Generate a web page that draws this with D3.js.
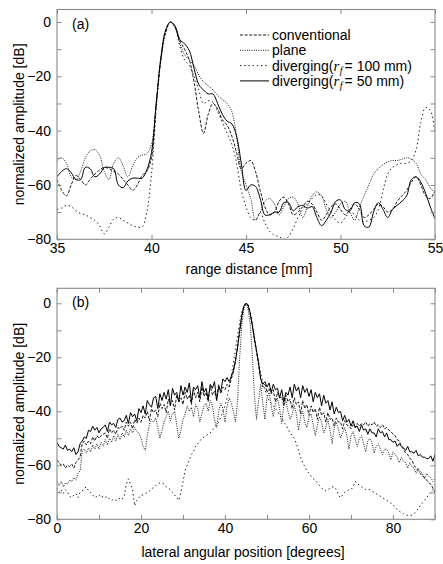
<!DOCTYPE html>
<html><head><meta charset="utf-8">
<script src="https://cdn.jsdelivr.net/npm/d3@7"></script>
<style>
body{margin:0;background:#fff}
svg{display:block}
text{font-family:"Liberation Sans",Arial,Helvetica,sans-serif;font-size:14px;fill:#000}
</style>
</head><body>
<svg id="c" width="443" height="564"></svg>
<script>
// ---------- DATA ----------
// (a) range profile, x = range distance [mm], 35..55 step 0.25
const rangeX = d3.range(35, 55.001, 0.25);
const rangeConventional = [
 -58,-62,-64,-60,-56.5,-58,-60,-58,-56,-54.5,-53.5,-54,-55,-56,-58,-60,-62,-60,-56.5,-55,
 -50,-30,-13,-3,0,-2,-7,-10,-14,-22,-33,-41,-34,-30,-32,-36,-38,-42,-48,-54,
 -52,-51,-55,-62,-68,-71,-70,-66,-64.5,-67,-71,-70,-68,-66,-67,-70,-73,-71,-68,-67,
 -69,-71,-69,-67,-69,-72,-71,-69,-67,-68,-70,-69,-66,-64,-62,-59,-57,-60,-64,-65,
 -62];
const rangePlane = [
 -51,-50,-52,-57,-58,-55,-50,-47.5,-47,-49,-55,-58,-52,-50,-53,-57,-53,-50,-49,-48.5,
 -45,-30,-14,-4,0,-2,-8,-12,-14,-16,-19.5,-22,-23.5,-25,-27,-28.5,-30,-33,-42,-55,
 -60,-65,-73,-70,-66,-65,-67,-71,-68,-65,-64.5,-67,-72,-68,-64,-62.5,-64,-69,-72,-70,
 -67,-66,-70,-73,-68,-64,-60,-56,-54,-52.5,-51.5,-51,-51,-50.5,-50,-50.5,-52,-56,-58,-61,
 -63];
const rangeDiv100 = [
 -69,-68.5,-67.5,-68,-69.5,-70.5,-71,-72,-73,-75,-78,-75.5,-72.5,-72,-73,-74,-75,-75.5,-75.5,-70,
 -56,-32,-14,-4,0,-2,-9,-14,-16,-20,-25,-30,-29,-29.5,-33,-37,-41,-45,-52,-62,
 -68,-72,-73,-70,-74,-77,-78.5,-79,-80,-79,-76,-72,-69,-67,-65,-63.5,-64,-67,-70,-73,
 -74,-72,-70,-71,-73,-73.5,-73,-72,-69,-62,-56,-53.5,-52.5,-52,-52,-51,-47,-37,-31.5,-32.5,
 -41];
const rangeDiv50 = [
 -57,-55,-54,-55.5,-58,-58,-53.5,-54,-57,-56,-53.6,-53.5,-54,-60,-61,-58.5,-57.5,-57.5,-57.5,-54.5,
 -48,-30,-13,-3,0,-1.5,-6.5,-8,-10.5,-17,-23,-25,-26.5,-26.5,-30,-34,-36.5,-37.5,-42,-52,
 -62,-60,-60.5,-65,-71,-71,-70,-70,-66.5,-66.5,-69.5,-68,-67.5,-68.5,-68,-72,-75,-73,-70,-66,
 -65.5,-69,-69.5,-66.5,-67,-75,-75.5,-70,-66.5,-69,-72,-69,-67.5,-66,-64,-58,-57,-59,-63,-68,
 -72.5];

// (b) lateral profile, x = lateral angular position [degrees], 0..90 step 0.5
const lateralX = d3.range(0, 90.001, 0.5);
const lateralConventional = [
 -58,-59,-60,-59.5,-61,-60,-60.5,-59.5,-61,-59,-58,-57,-52,-51,-52.5,-51,-52,-49.5,-51,-49,
 -50,-49,-48.5,-48,-50,-46.5,-48,-47,-48.5,-46,-46.5,-45.5,-47,-44,-45.5,-44,-46.5,-43,-44.5,-42.5,
 -44,-41.5,-42.5,-40,-43.5,-39,-40.5,-39.5,-42,-37,-39,-37.5,-40.5,-35.5,-37.5,-36,-39.5,-34,-36.5,-35,
 -37.5,-33,-35.5,-34,-37.5,-32,-35,-33,-36.5,-31,-34.5,-33,-36.5,-30.5,-34,-32.5,-35.5,-30,-33.5,-31,
 -32,-30,-31,-28,-25.5,-21.5,-16.5,-10.5,-5,-1.2,0,-0.8,-4,-8.5,-13.5,-18,-23,-28,-31,-30,
 -33,-31.5,-33.5,-32,-36.5,-33,-35,-34.5,-38,-34,-36.5,-35.5,-39,-35,-37.5,-36.5,-41,-36,-39,-37.5,
 -41.5,-38,-40.5,-39,-43,-38.5,-41.5,-40.5,-44,-40.5,-43,-42.5,-45.5,-42.5,-44,-44,-46.5,-43.5,-45,-45.5,
 -46.5,-45,-46,-44.5,-45.5,-44.5,-45,-44,-45.5,-44.5,-45,-44,-45.5,-45,-46,-45,-46.5,-46,-47,-47.5,
 -48.5,-49,-50.5,-51,-53,-54,-55.5,-56,-57.5,-58,-60,-61,-62,-63,-64,-64.5,-65.5,-66.5,-67,-68.5,
 -70];
const lateralPlane = [
 -66,-67.5,-66,-68,-66.5,-67,-65.5,-66,-64.5,-65.5,-63,-62,-55,-54,-55.5,-53.5,-55,-52.5,-54,-52,
 -54,-51.5,-53,-50.5,-52.5,-50,-51.5,-49,-51,-48.5,-50.5,-48,-49.5,-47,-49,-46.5,-48,-46,-47.5,-48,
 -50,-53,-54.5,-49,-45,-43,-44,-42.5,-46,-50,-47,-44,-42,-40,-43.5,-41,-40,-45,-50,-47,
 -43,-41,-38,-40,-38.5,-42,-37.5,-39,-44,-41,-38,-37,-40,-36,-38,-43,-46,-40,-37,-39,
 -44,-38,-35,-37,-40,-44,-36,-20,-8,-2,0,-2,-8,-19,-34,-43,-36,-30,-37,-43,
 -35,-33,-38,-42,-37,-35,-39,-44.5,-38,-36,-40,-43,-41,-38,-41,-47,-42,-40,-44,-46,
 -42,-41,-45,-49,-45,-42,-44,-48,-46,-43,-47,-52,-46,-44,-46.5,-50,-48,-46,-49,-54,
 -49,-47.5,-50.5,-53,-50,-49,-52,-55,-51,-50,-51.5,-55.5,-53,-52,-54,-56,-54,-54,-55.5,-58,
 -55,-56,-57,-59,-57,-58.5,-59,-61,-59,-60.5,-61,-63,-61,-62.5,-63,-65,-63,-64,-64.5,-66,
 -65];
const lateralDiv100 = [
 -68.5,-70,-69,-70.5,-69,-70,-71.5,-72,-71,-70.5,-72,-70,-69.5,-68.5,-68,-69.5,-70,-71,-72,-71.5,
 -71,-72,-71.5,-72,-71.5,-72.5,-73,-72.5,-73,-73,-72,-72.5,-71.5,-67,-65,-67,-69,-75,-73,-72,
 -71,-71,-70.5,-70,-69.5,-69,-68,-67.5,-67,-66.5,-66.5,-67,-68,-68.5,-69,-70,-71,-72,-73,-70,
 -66,-62,-60,-58,-56,-55,-53,-52,-51,-50,-49.5,-49,-48.5,-48,-47,-46,-45,-44,-42,-40,
 -38,-35,-31,-27,-22,-17,-12,-7,-3,-1,0,-1,-3.5,-7.5,-12.5,-17.5,-22,-26,-29.5,-32,
 -34,-36,-37,-38,-39,-40,-41.5,-42.5,-44,-45,-46.5,-48,-49,-50,-52,-54.5,-57,-59,-60.5,-62,
 -63,-64,-65,-65.5,-66.5,-67.5,-68.5,-69,-69.5,-69,-68.5,-68,-68,-69,-71,-72,-71,-70,-69.5,-69,
 -69,-68,-66,-66.5,-67.5,-68,-68.5,-69,-69,-69,-69.5,-70,-70.5,-71,-71.5,-72,-72.5,-73,-73.5,-74,
 -74.5,-75.5,-76.5,-77,-77.5,-78,-78.5,-78.5,-78.5,-78.5,-78,-77,-76,-75,-74,-73,-72,-71,-70,-69,
 -68];
const lateralDiv50 = [
 -51.5,-53,-53.5,-54,-52.5,-54.5,-54,-55,-53.5,-56,-55,-52,-51,-49.5,-50,-47,-47.5,-45.5,-47,-46,
 -48,-46.5,-46,-45,-47.5,-44,-45,-44.5,-46,-43,-42.5,-44,-43.5,-41.5,-44.5,-40.5,-42,-41,-43.5,-39,
 -40.5,-38,-41,-36,-37.5,-38.5,-35,-34.5,-39,-33.5,-36,-33,-35.5,-32,-38,-31.5,-34,-33,-36.5,-30.5,
 -34,-31,-33,-29.5,-36.5,-31,-32,-30.5,-35,-29,-33,-31.5,-35.5,-30,-31.5,-29,-36,-31,-32.5,-28,
 -29,-27.5,-29,-27,-25,-21,-16,-10,-4.5,-1,0,-0.5,-3.5,-8,-13,-17.5,-22,-28,-30,-29,
 -31,-29.5,-33,-30,-32,-31.5,-35,-32,-36.5,-33,-34,-31,-35,-30,-32.5,-31,-35,-30.5,-33,-31.5,
 -34.5,-32,-36.5,-33,-35,-33.5,-38,-34,-37,-36,-39.5,-36.5,-41,-38.5,-40.5,-40,-43.5,-41.5,-44,-43,
 -45.5,-43.5,-46,-45.5,-47.5,-45,-47,-46.5,-48.5,-46.5,-48,-48,-49.5,-46.5,-48,-47.5,-49.5,-48,-50.5,-50.5,
 -51.5,-51,-53,-52,-53,-53.5,-54.5,-53,-55,-55,-55.5,-54.5,-56.5,-56,-57,-57,-57.5,-57.5,-56.5,-58.5,
 -56];

const rangeTicks = [35, 40, 45, 50, 55];
const lateralTicks = [0, 10, 20, 30, 40, 50, 60, 70, 80, 90];
const lateralTickLabels = [0, 20, 40, 60, 80];
const dbTicks = [-80, -70, -60, -50, -40, -30, -20, -10, 0];
const dbTickLabels = [-80, -60, -40, -20, 0];
const seriesNames = ["conventional", "plane", "diverging(r_f= 100 mm)", "diverging(r_f= 50 mm)"];

// ---------- DRAW ----------
const svg = d3.select("#c");
const dashes = ["3,1.6", "1,1.3", "1.4,2.8", null];
const widths = [0.9, 0.9, 0.9, 1.0];
const frameColor = "#8a8a8a";
const L = 57, R = 435;

function panel(cfg) {
  const x = d3.scaleLinear().domain(cfg.xDomain).range([L, R]);
  const y = d3.scaleLinear().domain([-80, 0]).range([cfg.yBottom, cfg.yZero]);
  const g = svg.append("g");
  const cid = "clip" + cfg.id;
  g.append("clipPath").attr("id", cid).append("rect")
    .attr("x", L).attr("y", cfg.frameTop).attr("width", R - L).attr("height", cfg.yBottom - cfg.frameTop);

  const lines = g.append("g").attr("clip-path", `url(#${cid})`);
  const gen = d3.line().x((d, i) => x(cfg.xs[i])).y(d => y(d)).curve(cfg.curve);
  cfg.series.forEach((s, k) => {
    lines.append("path").attr("d", gen(s)).attr("fill", "none")
      .attr("stroke", "#000").attr("stroke-width", widths[k])
      .attr("stroke-dasharray", dashes[k]);
  });

  const styleAxis = sel => {
    sel.select(".domain").remove();
    sel.selectAll(".tick line").attr("stroke", frameColor);
    sel.attr("font-size", 14).attr("font-family", '"Liberation Sans",Arial,sans-serif');
    sel.selectAll("text").attr("fill", "#000");
  };
  const fmt = d3.format("d");
  g.append("g").attr("transform", `translate(${L},0)`)
    .call(d3.axisLeft(y).tickValues(dbTicks).tickSize(-4.5).tickPadding(6)
      .tickFormat(d => dbTickLabels.includes(d) ? fmt(d) : ""))
    .call(styleAxis);
  g.append("g").attr("transform", `translate(${R},0)`)
    .call(d3.axisRight(y).tickValues(dbTicks).tickSize(-4.5).tickFormat(""))
    .call(styleAxis);
  g.append("g").attr("transform", `translate(0,${cfg.yBottom})`)
    .call(d3.axisBottom(x).tickValues(cfg.xTicks).tickSize(-4.5).tickPadding(4)
      .tickFormat(d => cfg.xLabels.includes(d) ? fmt(d) : ""))
    .call(styleAxis);
  g.append("g").attr("transform", `translate(0,${cfg.frameTop})`)
    .call(d3.axisTop(x).tickValues(cfg.xTicks).tickSize(-4.5).tickFormat(""))
    .call(styleAxis);

  g.append("rect").attr("x", L).attr("y", cfg.frameTop).attr("width", R - L)
    .attr("height", cfg.yBottom - cfg.frameTop).attr("fill", "none")
    .attr("stroke", frameColor).attr("stroke-width", 1.1);

  g.append("text").attr("x", 72).attr("y", cfg.frameTop + 19).text(cfg.tag);
  g.append("text").attr("x", cfg.xLabelX).attr("y", cfg.xLabelY).attr("text-anchor", "middle").text(cfg.xLabel);
  g.append("text").attr("transform", `translate(24,${(cfg.frameTop + cfg.yBottom) / 2}) rotate(-90)`)
    .attr("text-anchor", "middle").text("normalized amplitude [dB]");
  return g;
}

const gA = panel({
  id: "a", xDomain: [35, 55], xs: rangeX, frameTop: 9.5, yZero: 22, yBottom: 239.3,
  xTicks: rangeTicks, xLabels: rangeTicks, tag: "(a)",
  xLabel: "range distance [mm]", xLabelX: 249, xLabelY: 274,
  curve: d3.curveCatmullRom.alpha(0.5),
  series: [rangeConventional, rangePlane, rangeDiv100, rangeDiv50]
});
panel({
  id: "b", xDomain: [0, 90], xs: lateralX, frameTop: 288.3, yZero: 303.3, yBottom: 519.3,
  xTicks: lateralTicks, xLabels: lateralTickLabels, tag: "(b)",
  xLabel: "lateral angular position [degrees]", xLabelX: 243, xLabelY: 557,
  curve: d3.curveLinear,
  series: [lateralConventional, lateralPlane, lateralDiv100, lateralDiv50]
});

// legend
const leg = gA.append("g");
seriesNames.forEach((name, k) => {
  const yy = 35 + k * 15.3;
  leg.append("line").attr("x1", 240).attr("x2", 269).attr("y1", yy).attr("y2", yy)
    .attr("stroke", "#000").attr("stroke-width", widths[k]).attr("stroke-dasharray", dashes[k]);
  const t = leg.append("text").attr("x", 272).attr("y", yy + 5);
  if (name.includes("r_f")) {
    const [pre, post] = name.split("r_f");
    t.append("tspan").text(pre);
    t.append("tspan").attr("font-family", '"Liberation Serif","Times New Roman",serif')
      .attr("font-style", "italic").attr("font-size", 15).text("r");
    t.append("tspan").attr("font-family", '"Liberation Serif","Times New Roman",serif')
      .attr("font-style", "italic").attr("font-size", 10).attr("dx", 0.5).attr("dy", 3).text("f");
    t.append("tspan").attr("dx", 2).attr("dy", -3).text(post);
  } else {
    t.text(name);
  }
});
</script>
</body></html>
